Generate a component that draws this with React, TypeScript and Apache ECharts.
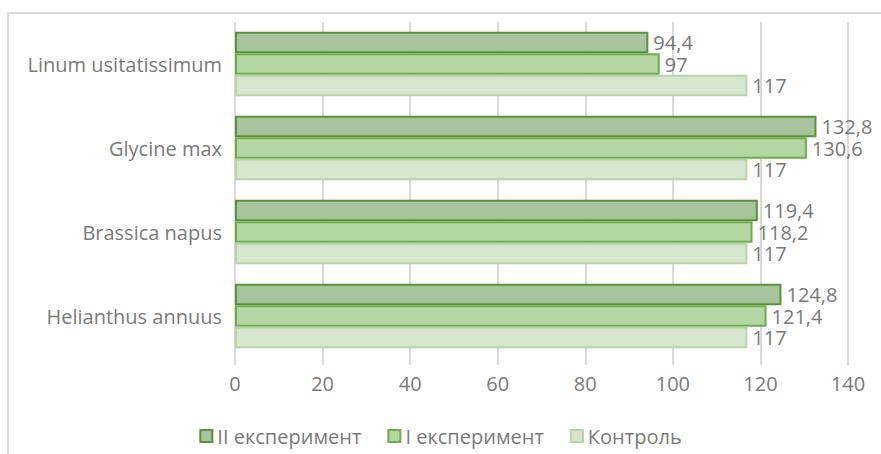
import React, { useEffect, useRef } from "react";
import * as echarts from "echarts";

const categories = ["Linum usitatissimum", "Glycine max", "Brassica napus", "Helianthus annuus"];
const seriesNames = ["II експеримент", "І експеримент", "Контроль"];
const exp2 = [94.4, 132.8, 119.4, 124.8];
const exp1 = [97, 130.6, 118.2, 121.4];
const control = [117, 117, 117, 117];
const xTicks = { min: 0, max: 140, interval: 20 };

const FONT = "Open Sans";
const TXT = "#7a7a7a";
const FS = 20;

export default function App() {
  const ref = useRef<HTMLDivElement>(null);
  useEffect(() => {
    const chart = echarts.init(ref.current!, null, { renderer: "svg" });
    const fmt = (p: any) => String(p.value).replace(".", ",");
    const styles = [
      { fill: "#a8c49d", border: "#5a913b", bw: 2 },
      { fill: "#b4d6a3", border: "#6fac4c", bw: 2 },
      { fill: "#d6e6cf", border: "#b6d4a8", bw: 2 },
    ];
    const datas = [exp2, exp1, control];
    chart.setOption({
      animation: false,
      textStyle: { fontFamily: FONT },
      graphic: [
        {
          type: "rect",
          shape: { x: 8, y: 13, width: 1000, height: 600 },
          style: { fill: "none", stroke: "#d9d9d9", lineWidth: 2 },
          silent: true,
        },
      ],
      grid: { left: 235, right: 33, top: 22, bottom: 96, containLabel: false },
      legend: {
        bottom: 3,
        left: "center",
        itemWidth: 12,
        itemHeight: 12,
        itemGap: 26,
        icon: "rect",
        textStyle: { fontFamily: FONT, fontSize: FS, color: TXT },
        data: seriesNames,
      },
      xAxis: {
        type: "value",
        min: xTicks.min,
        max: xTicks.max,
        interval: xTicks.interval,
        axisLine: { show: false },
        axisTick: { show: true, length: 7, lineStyle: { color: "#d9d9d9", width: 2 } },
        splitLine: { show: true, lineStyle: { color: "#d9d9d9", width: 2 } },
        axisLabel: { fontFamily: FONT, fontSize: FS, color: TXT, margin: 15 },
      },
      yAxis: {
        type: "category",
        data: categories,
        inverse: true,
        axisLine: { show: false },
        axisTick: { show: false },
        axisLabel: { fontFamily: FONT, fontSize: FS, color: TXT, margin: 13 },
      },
      series: seriesNames.map((name, i) => ({
        name,
        type: "bar",
        data: datas[i],
        barGap: "0%",
        barCategoryGap: "23%",
        itemStyle: {
          color: styles[i].fill,
          borderColor: styles[i].border,
          borderWidth: styles[i].bw,
        },
        label: {
          show: true,
          position: "right",
          distance: 5,
          formatter: fmt,
          fontFamily: FONT,
          fontSize: FS,
          lineHeight: 20,
          color: TXT,
        },
      })),
    });
    return () => chart.dispose();
  }, []);
  return (
    <div
      ref={ref}
      style={{ position: "fixed", left: 0, top: 0, width: 881, height: 454, background: "#fff" }}
    />
  );
}
